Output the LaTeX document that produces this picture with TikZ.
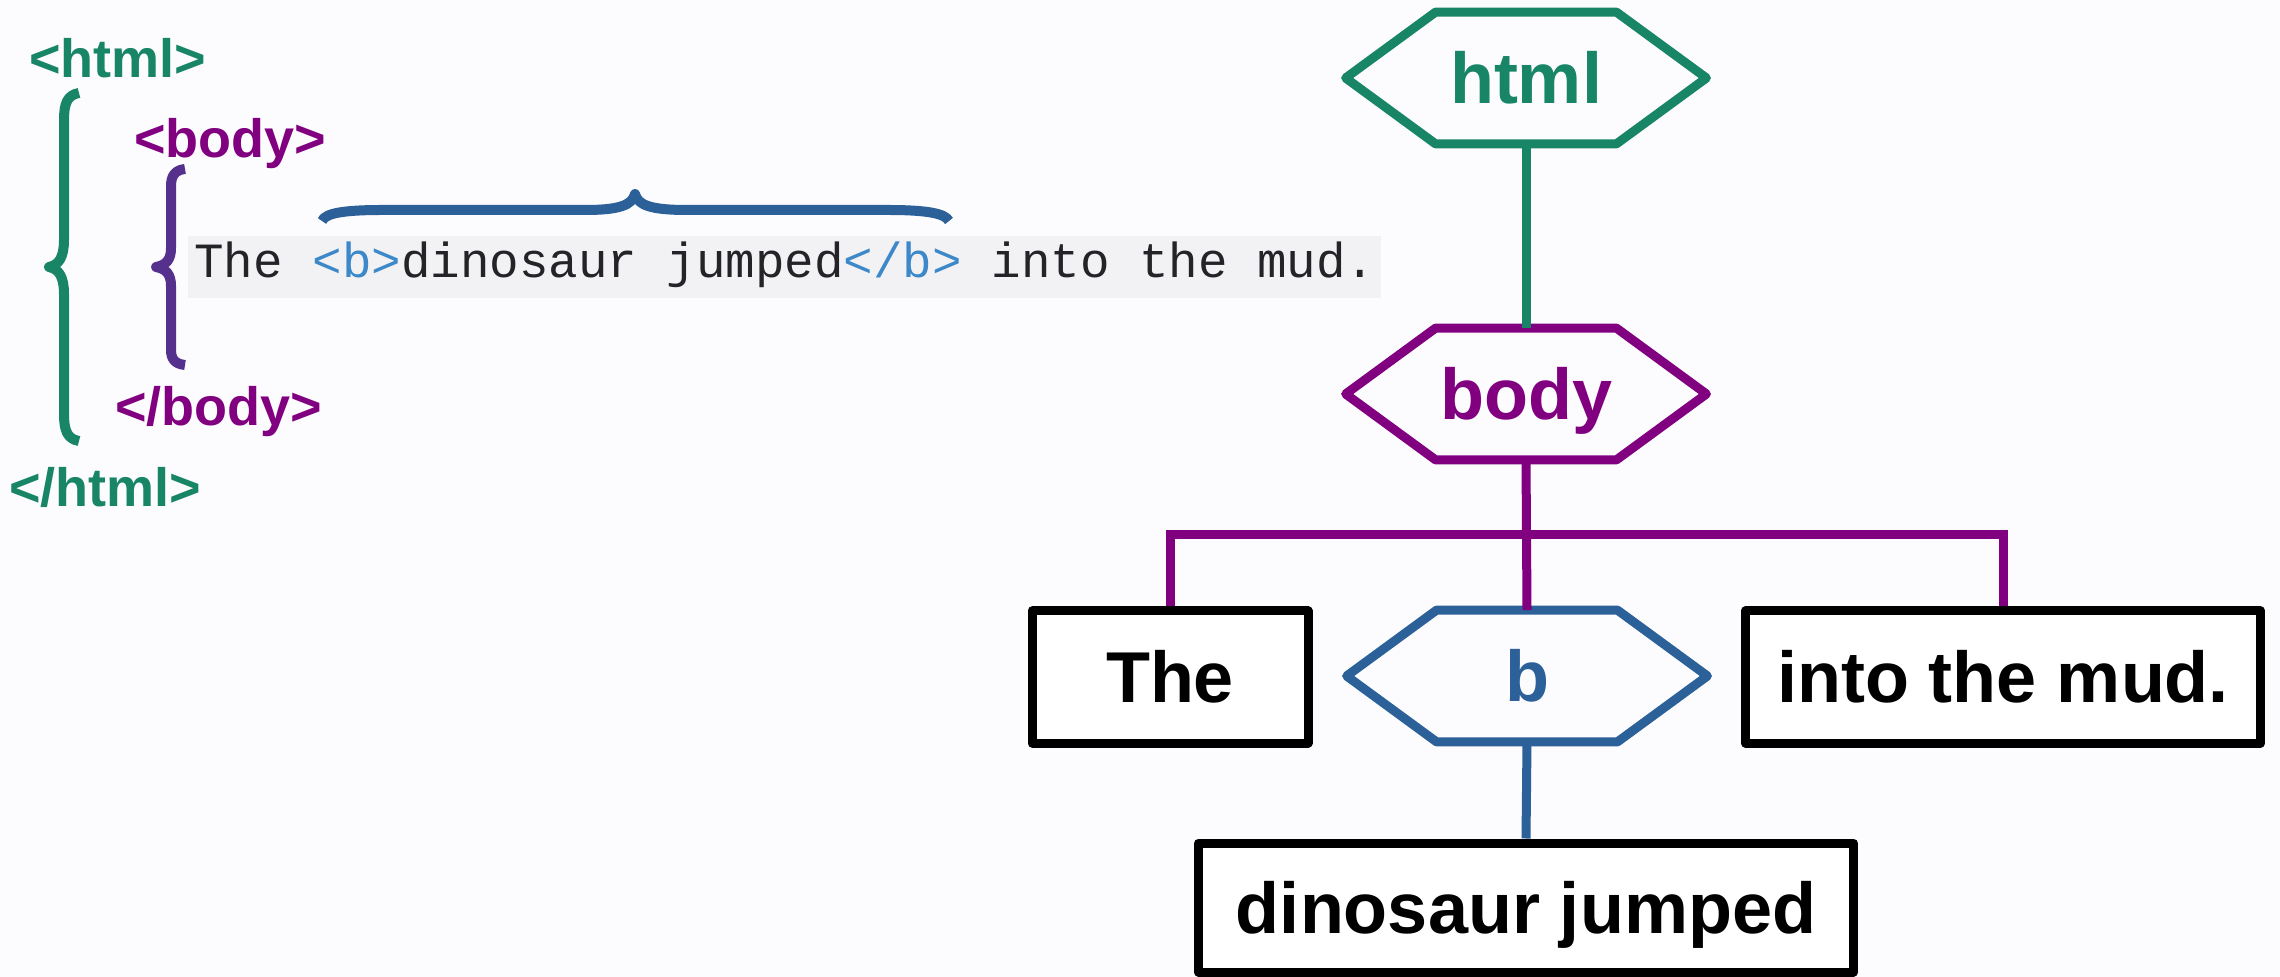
\documentclass[tikz,border=0pt]{standalone}
\usepackage{fontspec}
\setmainfont{Liberation Sans}
\newfontfamily\codefont{Liberation Mono}
\usetikzlibrary{calc}
\definecolor{pagebg}{RGB}{252,252,254}
\definecolor{tgreen}{RGB}{23,133,102}
\definecolor{tpurple}{RGB}{128,0,128}
\definecolor{bracepurple}{RGB}{85,48,141}
\definecolor{tblue}{RGB}{44,96,152}
\definecolor{tagblue}{RGB}{60,136,200}
\definecolor{codetext}{RGB}{35,35,40}
\definecolor{codebg}{RGB}{242,242,244}
\newcommand\hexaround[2]{%
  \draw[#1, line width=4.5pt, line join=round]
    (#2.north west) -- (#2.north east) -- ($(#2.east)+(90,0)$)
    -- (#2.south east) -- (#2.south west) -- ($(#2.west)-(90,0)$) -- cycle;}
\begin{document}
\begin{tikzpicture}[x=0.5pt,y=-0.5pt,
  treefont/.style={font=\fontsize{36pt}{36pt}\selectfont\bfseries, text height=26pt, text depth=0pt},
  treehex/.style={treefont, minimum width=90pt, minimum height=65.5pt, inner sep=0pt},
  treebox/.style={treefont, draw=black, line width=4.5pt, line join=round, fill=white, inner sep=0pt, minimum height=66pt},
  conn/.style={line width=4.5pt},
  tag/.style={font=\fontsize{27pt}{27pt}\selectfont\bfseries, inner sep=0pt, anchor=base west},
  brace/.style={line width=5pt, line join=round},
  code/.style={fill=codebg, inner xsep=3pt, inner ysep=0pt, text height=21pt, text depth=10pt,
    anchor=base west, text=codetext, font=\codefont\fontsize{24.6pt}{24.6pt}\selectfont}
]
\fill[pagebg] (0,0) rectangle (2280,977);
\useasboundingbox (0,0) rectangle (2280,977);

% ---- left: code view ----
\node[tag, text=tgreen] (ohtml) at (29,78) {<html>};
\node[tag, text=tpurple] (obody) at (134,158) {<body>};
\node[tag, text=tpurple] (cbody) at (115,426) {</body>};
\node[tag, text=tgreen] (chtml) at (9,507) {</html>};

\node[code] (code) at (188,278) {The \textcolor{tagblue}{<b>}dinosaur jumped\textcolor{tagblue}{</b>} into the mud.};

% green brace
\draw[brace, tgreen] (79,93) .. controls (67,95) and (64,104) .. (64,120) -- (64,240)
  .. controls (64,257) and (59,265) .. (49,267) .. controls (59,269) and (64,277) .. (64,294)
  -- (64,414) .. controls (64,430) and (67,439) .. (79,441);
% purple brace
\draw[brace, bracepurple] (185,169) .. controls (175,170) and (171,176) .. (171,186) -- (171,248)
  .. controls (171,260) and (166,265) .. (156,267) .. controls (166,269) and (171,274) .. (171,286)
  -- (171,350) .. controls (171,359) and (175,364) .. (185,365);
% blue brace
\draw[brace, tblue] (322,221) .. controls (325,213) and (345,210) .. (382,210) -- (585,210)
  .. controls (620,210) and (632,205) .. (635,194) .. controls (638,205) and (650,210) .. (687,210)
  -- (888,210) .. controls (925,210) and (945,213) .. (949,221);

% ---- right: tree ----
\node[treehex, text=tgreen] (html) at (1526,78) {html};
\hexaround{tgreen}{html}
\node[treehex, text=tpurple] (body) at (1526,394) {body};
\hexaround{tpurple}{body}
\node[treehex, text=tblue] (b) at (1527,676) {b};
\hexaround{tblue}{b}

\node[treebox, minimum width=138pt] (the) at (1170,677) {The};
\node[treebox, minimum width=257.5pt] (mud) at (2003,677) {into the mud.};
\node[treebox, minimum width=327.5pt, minimum height=64.5pt] (dino) at (1526,907.5) {dinosaur jumped};

\coordinate (bar) at (1526,535);
\draw[conn, tgreen] (html.south) -- (body.north);
\draw[conn, tpurple] (body.south) -- (b.north);
\draw[conn, tpurple] (the.north) |- (bar) -| (mud.north);
\draw[conn, tblue] (b.south) -- (dino.north);
\end{tikzpicture}
\end{document}
